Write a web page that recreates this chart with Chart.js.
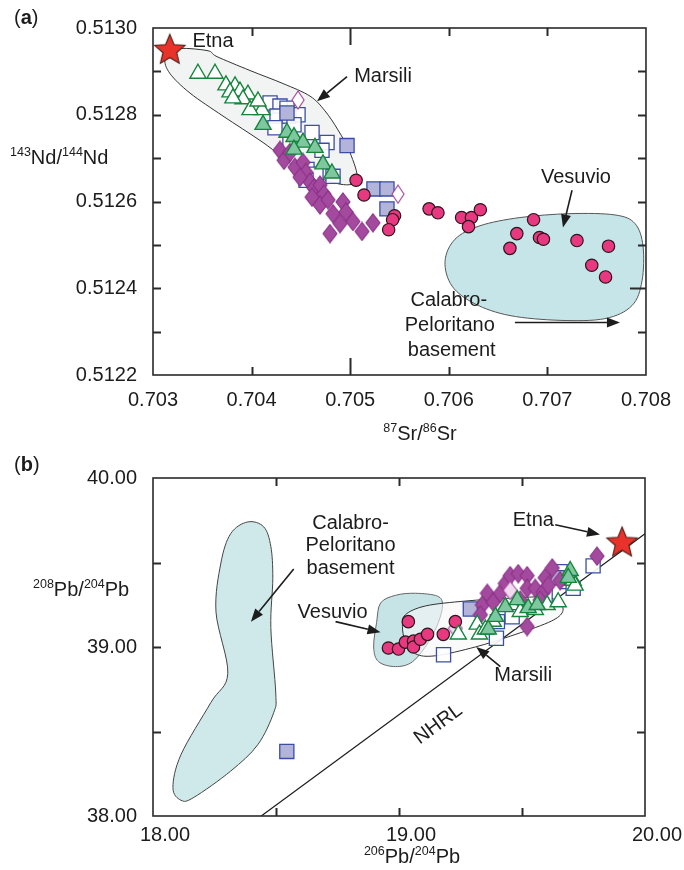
<!DOCTYPE html>
<html>
<head>
<meta charset="utf-8">
<script src="https://cdn.jsdelivr.net/npm/chart.js@4.4.1/dist/chart.umd.min.js"></script>
<style>
  html, body { margin: 0; padding: 0; background: #fff; }
  .panel { position: absolute; left: 0; width: 684px; }
  #panelA { top: 0; height: 450px; }
  #panelB { top: 450px; height: 420px; }
</style>
</head>
<body>
<div class="panel" id="panelA"><canvas id="chartA" width="684" height="450"></canvas></div>
<div class="panel" id="panelB"><canvas id="chartB" width="684" height="420"></canvas></div>
<script>
// ---- panel (a): 87Sr/86Sr vs 143Nd/144Nd ----
const srTicksA = [0.703, 0.704, 0.705, 0.706, 0.707, 0.708];
const ndTicksA = [0.5122, 0.5124, 0.5126, 0.5128, 0.5130];
const srMinorA = [0.704, 0.705, 0.706, 0.707];
const ndMinorA = [0.5123, 0.5124, 0.5125, 0.5126, 0.5127, 0.5128, 0.5129];

const srEtnaA = [0.70317];
const ndEtnaA = [0.512952];

const srVesuvioA = [0.70506, 0.70514, 0.70545, 0.70543, 0.70539, 0.70580, 0.70589, 0.70613, 0.70623, 0.70632,
  0.70620, 0.70686, 0.70669, 0.70692, 0.70696, 0.70662, 0.70730, 0.70762, 0.70745, 0.70759];
const ndVesuvioA = [0.512649, 0.512615, 0.512567, 0.512558, 0.512535, 0.512583, 0.512574, 0.512563, 0.512563, 0.512581,
  0.512542, 0.512558, 0.512526, 0.512517, 0.512513, 0.512492, 0.512510, 0.512497, 0.512453, 0.512426];

const srTriOpenA = [0.703456, 0.703629, 0.703740, 0.703832, 0.703781, 0.703882, 0.703963, 0.703913, 0.703811, 0.704034, 0.704105, 0.703984, 0.704065];
const ndTriOpenA = [0.512895, 0.512895, 0.512868, 0.512866, 0.512852, 0.512854, 0.512847, 0.512836, 0.512838, 0.512820, 0.512811, 0.512811, 0.512831];

const srTriFillA = [0.704116, 0.704359, 0.704430, 0.704521, 0.704430, 0.704643, 0.704724, 0.704815];
const ndTriFillA = [0.512777, 0.512759, 0.512749, 0.512736, 0.512720, 0.512724, 0.512686, 0.512665];

const srSqOpenA = [0.704187, 0.704288, 0.704359, 0.704258, 0.704379, 0.704471, 0.704430, 0.704613, 0.704765, 0.704714,
  0.704562, 0.704653, 0.704826, 0.704552, 0.704389, 0.704237];
const ndSqOpenA = [0.512827, 0.512820, 0.512815, 0.512797, 0.512797, 0.512800, 0.512777, 0.512759, 0.512736, 0.512718,
  0.512674, 0.512663, 0.512658, 0.512649, 0.512736, 0.512770];

const srSqFillA = [0.704359, 0.704968, 0.705241, 0.705373, 0.705373];
const ndSqFillA = [0.512804, 0.512729, 0.512629, 0.512629, 0.512583];

const srDiaA = [0.704288, 0.704329, 0.704389, 0.704440, 0.704521, 0.704552, 0.704592, 0.704633, 0.704694, 0.704734, 0.704613,
  0.704694, 0.704775, 0.704826, 0.704927, 0.704957, 0.705028, 0.705120, 0.704795, 0.705231, 0.704897, 0.704491];
const ndDiaA = [0.512718, 0.512695, 0.512713, 0.512679, 0.512690, 0.512667, 0.512645, 0.512631, 0.512638, 0.512617, 0.512610,
  0.512592, 0.512604, 0.512572, 0.512599, 0.512576, 0.512554, 0.512531, 0.512526, 0.512551, 0.512549, 0.512656];

const srDiaOpenA = [0.704471, 0.705485];
const ndDiaOpenA = [0.512834, 0.512617];

// field outlines
const srMarsiliFieldA = [0.703122, 0.703223, 0.703548, 0.703649, 0.703984, 0.704318, 0.704592, 0.704744, 0.704876,
  0.704998, 0.705069, 0.704897, 0.704491, 0.704116, 0.703710, 0.703375, 0.703172];
const ndMarsiliFieldA = [0.512929, 0.512952, 0.512948, 0.512934, 0.512902, 0.512872, 0.512843, 0.512809, 0.512765,
  0.512713, 0.512651, 0.512640, 0.512674, 0.512736, 0.512797, 0.512850, 0.512895];
const srVesuvioFieldA = [0.705962, 0.706063, 0.706316, 0.706722, 0.707229, 0.707686, 0.707889, 0.707970, 0.707960,
  0.707858, 0.707584, 0.707128, 0.706621, 0.706266, 0.706033];
const ndVesuvioFieldA = [0.512462, 0.512513, 0.512544, 0.512563, 0.512572, 0.512569, 0.512549, 0.512497, 0.512417,
  0.512360, 0.512330, 0.512326, 0.512337, 0.512364, 0.512405];

// ---- panel (b): 206Pb/204Pb vs 208Pb/204Pb ----
const pb6TicksB = [18, 19, 20];
const pb8TicksB = [38, 39, 40];
const pb6MinorB = [18.5, 19, 19.5];
const pb8MinorB = [38.5, 39, 39.5];

const pb6EtnaB = [19.907];
const pb8EtnaB = [39.624];

const pb6VesuvioB = [19.038, 18.957, 18.998, 19.026, 19.059, 19.059, 19.087, 19.116, 19.180, 19.229];
const pb8VesuvioB = [39.150, 38.994, 38.988, 39.029, 39.035, 39.000, 39.046, 39.075, 39.075, 39.150];

const pb6TriOpenB = [19.241, 19.318, 19.327, 19.351, 19.383, 19.493, 19.554, 19.602, 19.647, 19.708, 19.716];
const pb8TriOpenB = [39.075, 39.133, 39.075, 39.104, 39.150, 39.208, 39.220, 39.249, 39.266, 39.393, 39.364];

const pb6TriFillB = [19.363, 19.432, 19.481, 19.525, 19.562, 19.696, 19.688, 19.392];
const pb8TriFillB = [39.104, 39.237, 39.278, 39.231, 39.249, 39.451, 39.410, 39.179];

const pb6SqOpenB = [19.181, 19.396, 19.400, 19.460, 19.594, 19.655, 19.684, 19.708, 19.789];
const pb8SqOpenB = [38.954, 39.052, 39.150, 39.179, 39.306, 39.445, 39.387, 39.347, 39.480];

const pb6SqFillB = [19.290, 19.643, 18.544];
const pb8SqFillB = [39.225, 39.410, 38.382];

const pb6DiaB = [19.339, 19.331, 19.359, 19.383, 19.412, 19.432, 19.452, 19.485, 19.521, 19.521,
  19.554, 19.586, 19.594, 19.623, 19.607, 19.521, 19.655, 19.805, 19.493, 19.574];
const pb8DiaB = [39.249, 39.191, 39.318, 39.266, 39.318, 39.376, 39.422, 39.434, 39.422, 39.347,
  39.347, 39.324, 39.410, 39.468, 39.364, 39.121, 39.393, 39.538, 39.278, 39.278];

const pb6DiaOpenB = [19.229, 19.452];
const pb8DiaOpenB = [39.110, 39.335];

const pb6Nhrl = [18.44, 20.0];
const pb8Nhrl = [38.0, 39.67];

const pb6CalabroFieldB = [18.385, 18.450, 18.479, 18.487, 18.479, 18.499, 18.491, 18.426, 18.316,
  18.166, 18.114, 18.081, 18.114, 18.235, 18.304, 18.256, 18.276, 18.316];
const pb8CalabroFieldB = [39.740, 39.711, 39.595, 39.405, 39.116, 38.728, 38.613, 38.422, 38.266,
  38.110, 38.093, 38.168, 38.364, 38.671, 38.844, 39.208, 39.497, 39.671];
const pb6VesuvioFieldB = [18.925, 18.986, 19.067, 19.156, 19.177, 19.160, 19.120, 19.055, 18.986, 18.917, 18.897, 18.909];
const pb8VesuvioFieldB = [39.260, 39.306, 39.318, 39.301, 39.249, 39.145, 39.029, 38.913, 38.884, 38.913, 39.000, 39.145];
const pb6MarsiliFieldB = [19.026, 19.108, 19.270, 19.452, 19.594, 19.655, 19.663, 19.607, 19.452, 19.310, 19.148, 19.067, 19.026, 19.014];
const pb8MarsiliFieldB = [39.191, 39.243, 39.272, 39.289, 39.295, 39.260, 39.202, 39.145, 39.064, 39.000, 38.948, 38.960, 39.035, 39.121];

const FONT = '"Liberation Sans", Arial, Helvetica, sans-serif';
const INK = '#1c1c1c';

const pts = (xs, ys) => xs.map((x, i) => ({ x, y: ys[i] }));

// ---- marker images ----
function makeStar(r, fill, edge) {
  const s = Math.ceil(r * 2 + 4);
  const c = document.createElement('canvas');
  c.width = s; c.height = s;
  const g = c.getContext('2d');
  g.beginPath();
  for (let i = 0; i < 10; i++) {
    const rad = i % 2 ? r * 0.45 : r;
    const a = -Math.PI / 2 + i * Math.PI / 5;
    g.lineTo(s / 2 + rad * Math.cos(a), s / 2 + 1.5 + rad * Math.sin(a));
  }
  g.closePath();
  g.fillStyle = fill; g.fill();
  g.strokeStyle = edge; g.lineWidth = 1.1; g.stroke();
  return c;
}

function makeDiamond(w, h, fill, edge) {
  const c = document.createElement('canvas');
  c.width = w + 2; c.height = h + 2;
  const g = c.getContext('2d');
  g.beginPath();
  g.moveTo(c.width / 2, 1);
  g.lineTo(c.width - 1, c.height / 2);
  g.lineTo(c.width / 2, c.height - 1);
  g.lineTo(1, c.height / 2);
  g.closePath();
  g.fillStyle = fill; g.fill();
  g.strokeStyle = edge; g.lineWidth = 1.1; g.stroke();
  return c;
}

const starMark = makeStar(16, '#e8322a', '#4a1c14');
const diaMark = makeDiamond(14, 18, '#a34a9e', '#8a3187');
const diaOpenMark = makeDiamond(12, 18, '#ffffff', '#9b3d98');
const diaHatchMark = makeDiamond(14, 18, '#f1dcef', '#a34a9e');

const GREEN = '#17843e';
const BLUE = '#3b4ea6';

function markerSets(d) {
  return [
    { data: d.etna, pointStyle: d.star, pointRadius: 16 },
    { data: d.triFill, pointStyle: 'triangle', pointRadius: 9.3, backgroundColor: '#7fc79e', borderColor: GREEN, borderWidth: 1.4 },
    { data: d.triOpen, pointStyle: 'triangle', pointRadius: 9.3, backgroundColor: '#ffffff', borderColor: GREEN, borderWidth: 1.4 },
    { data: d.vesuvio, pointStyle: 'circle', pointRadius: 6.2, backgroundColor: '#e8387f', borderColor: '#2a161c', borderWidth: 1.2 },
    { data: d.diaOpen, pointStyle: d.diaOpenMark, pointRadius: 8 },
    { data: d.dia, pointStyle: diaMark, pointRadius: 8 },
    { data: d.sqFill, pointStyle: 'rect', pointRadius: 10, backgroundColor: '#b3b4d9', borderColor: BLUE, borderWidth: 1.3 },
    { data: d.sqOpen, pointStyle: 'rect', pointRadius: 10, backgroundColor: 'rgba(255,255,255,0.9)', borderColor: BLUE, borderWidth: 1.3 }
  ];
}

// ---- drawing helpers ----
function blobPath(ctx, p) {
  const n = p.length;
  ctx.beginPath();
  ctx.moveTo(p[0][0], p[0][1]);
  for (let i = 0; i < n; i++) {
    const p0 = p[(i - 1 + n) % n], p1 = p[i], p2 = p[(i + 1) % n], p3 = p[(i + 2) % n];
    ctx.bezierCurveTo(
      p1[0] + (p2[0] - p0[0]) / 6, p1[1] + (p2[1] - p0[1]) / 6,
      p2[0] - (p3[0] - p1[0]) / 6, p2[1] - (p3[1] - p1[1]) / 6,
      p2[0], p2[1]);
  }
  ctx.closePath();
}

function drawArrow(ctx, x0, y0, x1, y1) {
  const a = Math.atan2(y1 - y0, x1 - x0);
  const head = 13, half = 5;
  const bx = x1 - head * Math.cos(a), by = y1 - head * Math.sin(a);
  ctx.beginPath();
  ctx.moveTo(x0, y0);
  ctx.lineTo(bx, by);
  ctx.stroke();
  ctx.beginPath();
  ctx.moveTo(x1, y1);
  ctx.lineTo(bx + half * Math.sin(a), by - half * Math.cos(a));
  ctx.lineTo(bx - half * Math.sin(a), by + half * Math.cos(a));
  ctx.closePath();
  ctx.fill();
}

// text made of [string, isSuperscript] pieces, y is the baseline
function drawRich(ctx, parts, x, y, align) {
  const big = `20px ${FONT}`, small = `12.5px ${FONT}`;
  let w = 0;
  parts.forEach(([t, sup]) => { ctx.font = sup ? small : big; w += ctx.measureText(t).width; });
  let cx = align === 'center' ? x - w / 2 : x;
  ctx.textAlign = 'left';
  ctx.textBaseline = 'alphabetic';
  parts.forEach(([t, sup]) => {
    ctx.font = sup ? small : big;
    ctx.fillText(t, cx, sup ? y - 8 : y);
    cx += ctx.measureText(t).width;
  });
}

function decorPlugin(cfg) {
  return {
    id: 'decor',
    beforeDatasetsDraw(chart) {
      const { ctx, scales: { x, y } } = chart;
      ctx.save();
      cfg.fields.forEach(f => {
        const p = f.xs.map((v, i) => [x.getPixelForValue(v), y.getPixelForValue(f.ys[i])]);
        blobPath(ctx, p);
        ctx.fillStyle = f.fill;
        ctx.fill();
        ctx.lineWidth = 1;
        ctx.strokeStyle = f.edge;
        ctx.stroke();
      });
      ctx.restore();
    },
    afterDatasetsDraw(chart) {
      const { ctx, scales: { x, y } } = chart;
      ctx.save();
      ctx.strokeStyle = INK;
      ctx.fillStyle = INK;
      ctx.lineWidth = 1.6;
      cfg.arrows.forEach(a => drawArrow(ctx,
        x.getPixelForValue(a[0]), y.getPixelForValue(a[1]),
        x.getPixelForValue(a[2]), y.getPixelForValue(a[3])));
      ctx.font = `20px ${FONT}`;
      ctx.textBaseline = 'middle';
      cfg.notes.forEach(n => {
        ctx.save();
        ctx.translate(x.getPixelForValue(n.x), y.getPixelForValue(n.y));
        if (n.along) {
          const [x0, x1] = n.along[0], [y0, y1] = n.along[1];
          ctx.rotate(Math.atan2(y.getPixelForValue(y1) - y.getPixelForValue(y0),
            x.getPixelForValue(x1) - x.getPixelForValue(x0)));
        }
        ctx.textAlign = n.align || 'center';
        ctx.fillText(n.text, 0, 0);
        ctx.restore();
      });
      ctx.restore();
    },
    afterDraw(chart) {
      const { ctx, chartArea: ca, scales: { x, y } } = chart;
      ctx.save();
      ctx.strokeStyle = '#2a2a2a';
      ctx.lineWidth = 1.6;
      ctx.strokeRect(ca.left, ca.top, ca.right - ca.left, ca.bottom - ca.top);
      ctx.lineWidth = 2;
      ctx.beginPath();
      cfg.xMinor.forEach(v => {
        const px = Math.round(x.getPixelForValue(v)) + 0.5;
        const len = cfg.longX.includes(v) ? 17 : 8;
        ctx.moveTo(px, ca.bottom); ctx.lineTo(px, ca.bottom - len);
        ctx.moveTo(px, ca.top); ctx.lineTo(px, ca.top + len);
      });
      cfg.yMinor.forEach(v => {
        const py = Math.round(y.getPixelForValue(v)) + 0.5;
        const rlen = cfg.longY.includes(v) ? 16 : 8;
        ctx.moveTo(ca.left, py); ctx.lineTo(ca.left + 8, py);
        ctx.moveTo(ca.right, py); ctx.lineTo(ca.right - rlen, py);
      });
      ctx.stroke();

      ctx.fillStyle = INK;
      drawRich(ctx, cfg.xTitle.parts, cfg.xTitle.x, cfg.xTitle.y, 'center');
      drawRich(ctx, cfg.yTitle.parts, cfg.yTitle.x, cfg.yTitle.y, 'left');
      // panel letter
      ctx.textBaseline = 'alphabetic';
      ctx.textAlign = 'left';
      ctx.font = `20px ${FONT}`;
      ctx.fillText('(', cfg.tag.x, cfg.tag.y);
      let cx = cfg.tag.x + ctx.measureText('(').width;
      ctx.font = `bold 20px ${FONT}`;
      ctx.fillText(cfg.tag.text, cx, cfg.tag.y);
      cx += ctx.measureText(cfg.tag.text).width;
      ctx.font = `20px ${FONT}`;
      ctx.fillText(')', cx, cfg.tag.y);
      ctx.restore();
    }
  };
}

function axes(xMin, xMax, yMin, yMax, xTicks, yTicks, xDigits, yDigits, xPad, xHeight, xShift) {
  const tickFont = { size: 20, family: FONT };
  return {
    x: {
      type: 'linear', min: xMin, max: xMax,
      grid: { display: false, drawTicks: false },
      border: { display: false },
      afterBuildTicks: axis => { axis.ticks = xTicks.map(value => ({ value })); },
      afterFit: axis => { axis.height = xHeight; },
      ticks: { padding: xPad, color: INK, font: tickFont, maxRotation: 0, autoSkip: false,
        labelOffset: xShift, callback: v => Number(v).toFixed(xDigits) }
    },
    y: {
      type: 'linear', min: yMin, max: yMax,
      grid: { display: false, drawTicks: false },
      border: { display: false },
      afterBuildTicks: axis => { axis.ticks = yTicks.map(value => ({ value })); },
      afterFit: axis => { axis.width = 153; },
      ticks: { padding: 16, color: INK, font: tickFont, autoSkip: false,
        callback: v => Number(v).toFixed(yDigits) }
    }
  };
}

const baseOptions = {
  responsive: false,
  animation: false,
  events: [],
  plugins: { legend: { display: false }, tooltip: { enabled: false } }
};

// panel (a)
new Chart(document.getElementById('chartA'), {
  type: 'scatter',
  data: {
    datasets: markerSets({
      etna: pts(srEtnaA, ndEtnaA), star: starMark,
      triFill: pts(srTriFillA, ndTriFillA), triOpen: pts(srTriOpenA, ndTriOpenA),
      vesuvio: pts(srVesuvioA, ndVesuvioA),
      diaOpen: pts(srDiaOpenA, ndDiaOpenA), diaOpenMark: diaOpenMark,
      dia: pts(srDiaA, ndDiaA),
      sqFill: pts(srSqFillA, ndSqFillA), sqOpen: pts(srSqOpenA, ndSqOpenA)
    })
  },
  options: {
    ...baseOptions,
    layout: { padding: { top: 24, right: 38, left: 0, bottom: 0 } },
    scales: axes(0.703, 0.708, 0.5122, 0.5130, srTicksA, ndTicksA, 3, 4, 13, 75, 0)
  },
  plugins: [decorPlugin({
    fields: [
      { xs: srMarsiliFieldA, ys: ndMarsiliFieldA, fill: '#f2f4f3', edge: '#333' },
      { xs: srVesuvioFieldA, ys: ndVesuvioFieldA, fill: '#c6e5e8', edge: '#555' }
    ],
    arrows: [
      [0.704968, 0.512888, 0.704663, 0.512831],
      [0.707250, 0.512626, 0.707158, 0.512540],
      [0.706671, 0.512321, 0.707736, 0.512321]
    ],
    notes: [
      { text: 'Etna', x: 0.70340, y: 0.512968, align: 'left' },
      { text: 'Marsili', x: 0.705333, y: 0.512888 },
      { text: 'Vesuvio', x: 0.707290, y: 0.512656 },
      { text: 'Calabro-', x: 0.706000, y: 0.512371 },
      { text: 'Peloritano', x: 0.706010, y: 0.512314 },
      { text: 'basement', x: 0.706030, y: 0.512257 }
    ],
    xMinor: srMinorA, yMinor: ndMinorA, longX: [0.705], longY: [0.5124],
    xTitle: { parts: [['87', true], ['Sr/', false], ['86', true], ['Sr', false]], x: 420, y: 440 },
    yTitle: { parts: [['143', true], ['Nd/', false], ['144', true], ['Nd', false]], x: 10, y: 164 },
    tag: { text: 'a', x: 14, y: 24 }
  })]
});

// panel (b)
const nhrlSet = {
  data: pts(pb6Nhrl, pb8Nhrl), showLine: true, pointRadius: 0,
  borderColor: INK, borderWidth: 1.2, fill: false
};

new Chart(document.getElementById('chartB'), {
  type: 'scatter',
  data: {
    datasets: markerSets({
      etna: pts(pb6EtnaB, pb8EtnaB), star: starMark,
      triFill: pts(pb6TriFillB, pb8TriFillB), triOpen: pts(pb6TriOpenB, pb8TriOpenB),
      vesuvio: pts(pb6VesuvioB, pb8VesuvioB),
      diaOpen: pts(pb6DiaOpenB, pb8DiaOpenB), diaOpenMark: diaHatchMark,
      dia: pts(pb6DiaB, pb8DiaB),
      sqFill: pts(pb6SqFillB, pb8SqFillB), sqOpen: pts(pb6SqOpenB, pb8SqOpenB)
    }).concat([nhrlSet])
  },
  options: {
    ...baseOptions,
    layout: { padding: { top: 20, right: 39, left: 0, bottom: 0 } },
    scales: axes(18, 20, 38, 40, pb6TicksB, pb8TicksB, 2, 2, 7, 54, 12)
  },
  plugins: [decorPlugin({
    fields: [
      { xs: pb6CalabroFieldB, ys: pb8CalabroFieldB, fill: '#cfe9ea', edge: '#444' },
      { xs: pb6VesuvioFieldB, ys: pb8VesuvioFieldB, fill: '#c6e3e6', edge: '#666' },
      { xs: pb6MarsiliFieldB, ys: pb8MarsiliFieldB, fill: 'rgba(246,247,247,0.6)', edge: '#333' }
    ],
    arrows: [
      [18.572, 39.462, 18.398, 39.150],
      [18.742, 39.150, 18.925, 39.087],
      [19.635, 39.723, 19.817, 39.665],
      [19.412, 38.884, 19.314, 39.000]
    ],
    notes: [
      { text: 'Calabro-', x: 18.803, y: 39.728 },
      { text: 'Peloritano', x: 18.803, y: 39.601 },
      { text: 'basement', x: 18.803, y: 39.462 },
      { text: 'Vesuvio', x: 18.730, y: 39.202 },
      { text: 'Etna', x: 19.546, y: 39.746 },
      { text: 'Marsili', x: 19.505, y: 38.832 },
      { text: 'NHRL', x: 19.160, y: 38.543, along: [pb6Nhrl, pb8Nhrl] }
    ],
    xMinor: pb6MinorB, yMinor: pb8MinorB, longX: [], longY: [],
    xTitle: { parts: [['206', true], ['Pb/', false], ['204', true], ['Pb', false]], x: 412, y: 413 },
    yTitle: { parts: [['208', true], ['Pb/', false], ['204', true], ['Pb', false]], x: 33, y: 146 },
    tag: { text: 'b', x: 14, y: 21 }
  })]
});
</script>
</body>
</html>
